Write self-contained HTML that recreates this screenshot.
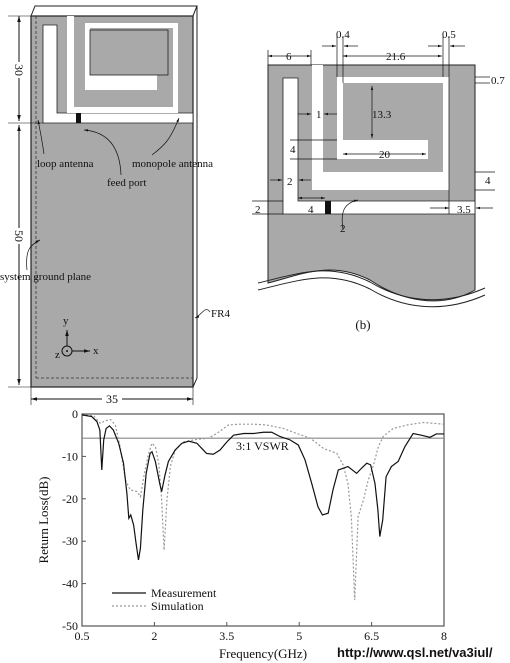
<!DOCTYPE html>
<html><head><meta charset="utf-8"><style>
body{margin:0;background:#fff;width:510px;height:663px;overflow:hidden}
svg{display:block}
text{font-family:"Liberation Serif",serif;fill:#111}
</style></head><body>
<svg width="510" height="663" viewBox="0 0 510 663">
<defs>
<marker id="ar" viewBox="0 0 10 10" refX="10" refY="5" markerWidth="6" markerHeight="6" orient="auto-start-reverse"><path d="M0,2 L10,5 L0,8 z" fill="#111"/></marker>
</defs>
<!-- (a) board -->
<g>
<polygon points="31,16 35,6 197,6 193,16" fill="#fff" stroke="#222" stroke-width="1"/>
<polygon points="193,16 197,6 197,378 193,387" fill="#fff" stroke="#222" stroke-width="1"/>
<rect x="31" y="16" width="162" height="371" fill="#a9a9a9" stroke="#222" stroke-width="1.2"/>
<line x1="36" y1="16" x2="36" y2="378" stroke="#333" stroke-dasharray="3,2" stroke-width="0.8"/>
<line x1="36" y1="378" x2="193" y2="378" stroke="#333" stroke-dasharray="3,2" stroke-width="0.8"/>
<path d="M43,25 H57 V113 H193 V123 H43 Z" fill="#fff" stroke="#222" stroke-width="0.8"/>
<g fill="#fff">
<rect x="67" y="16" width="7" height="97"/>
<rect x="67" y="107" width="111" height="6"/>
<rect x="173" y="23" width="5" height="90"/>
<rect x="85" y="23" width="93" height="5"/>
<rect x="85" y="23" width="5" height="67"/>
<rect x="85" y="75" width="72" height="15"/>
</g>
<rect x="90" y="30" width="78" height="45" fill="none" stroke="#222" stroke-width="0.8"/>
<rect x="76" y="113" width="5" height="10" fill="#111"/>
<line x1="19" y1="16" x2="19" y2="121" stroke="#111" marker-start="url(#ar)" marker-end="url(#ar)"/>
<line x1="19" y1="125" x2="19" y2="385" stroke="#111" marker-start="url(#ar)" marker-end="url(#ar)"/>
<line x1="8" y1="16" x2="31" y2="16" stroke="#111" stroke-width="0.6"/>
<line x1="8" y1="123" x2="43" y2="123" stroke="#111" stroke-width="0.6"/>
<line x1="8" y1="387" x2="31" y2="387" stroke="#111" stroke-width="0.6"/>
<rect x="14" y="62" width="10" height="16" fill="#fff"/>
<text x="0" y="0" font-size="12" transform="translate(14,70) rotate(90)" text-anchor="middle" dy="-1">30</text>
<rect x="14" y="228" width="10" height="16" fill="#fff"/>
<text x="0" y="0" font-size="12" transform="translate(14,236) rotate(90)" text-anchor="middle" dy="-1">50</text>
<line x1="31" y1="399" x2="193" y2="399" stroke="#111" marker-start="url(#ar)" marker-end="url(#ar)"/>
<line x1="31" y1="387" x2="31" y2="405" stroke="#111" stroke-width="0.6"/>
<line x1="193" y1="387" x2="193" y2="405" stroke="#111" stroke-width="0.6"/>
<rect x="102" y="392" width="20" height="12" fill="#fff"/>
<text x="112" y="403" font-size="12" text-anchor="middle">35</text>
<text x="37" y="167" font-size="11">loop antenna</text>
<text x="132" y="167" font-size="11">monopole antenna</text>
<text x="107" y="186" font-size="11">feed port</text>
<text x="0" y="280" font-size="11">system ground plane</text>
<text x="211" y="317" font-size="11">FR4</text>
<path d="M44,154 C42,140 40,130 38,120" fill="none" stroke="#111" stroke-width="0.7" marker-end="url(#ar)"/>
<path d="M152,155 C165,145 170,140 179,118" fill="none" stroke="#111" stroke-width="0.7" marker-end="url(#ar)"/>
<path d="M121,175 C120,150 110,132 84,130" fill="none" stroke="#111" stroke-width="0.7" marker-end="url(#ar)"/>
<path d="M27,270 C25,250 30,245 40,240" fill="none" stroke="#111" stroke-width="0.7" marker-end="url(#ar)"/>
<path d="M210,312 C205,305 202,315 195,318" fill="none" stroke="#111" stroke-width="0.7" marker-end="url(#ar)"/>
<circle cx="67" cy="351" r="5" fill="none" stroke="#111"/><circle cx="67" cy="351" r="1" fill="#111"/>
<line x1="67" y1="346" x2="67" y2="330" stroke="#111" marker-end="url(#ar)"/>
<line x1="72" y1="351" x2="90" y2="351" stroke="#111" marker-end="url(#ar)"/>
<text x="63" y="324" font-size="11">y</text><text x="93" y="354" font-size="11">x</text><text x="55" y="358" font-size="11">z</text>
</g>
<!-- (b) detail -->
<g>
<path d="M268,65 H475 V290 C440,310 400,300 370,280 C330,260 300,275 268,283 Z" fill="#a9a9a9" stroke="#222"/>
<path d="M283,78 H298 V201 H475 V214 H283 Z" fill="#fff" stroke="#222" stroke-width="0.8"/>
<g fill="#fff">
<rect x="312" y="65" width="11" height="125"/>
<rect x="312" y="172" width="137" height="18"/>
<rect x="443" y="77" width="6" height="113"/>
<rect x="337" y="77" width="112" height="6"/>
<rect x="337" y="77" width="6" height="82"/>
<rect x="337" y="140" width="91" height="19"/>
</g>
<rect x="325" y="201" width="6" height="13" fill="#111"/>
<path d="M258,283 C300,273 330,262 370,282 C400,300 440,308 485,288" fill="none" stroke="#222"/>
<path d="M258,290 C300,280 330,269 370,289 C400,307 440,315 485,295" fill="none" stroke="#222"/>
<text x="286" y="60" font-size="11">6</text>
<text x="336" y="38" font-size="11">0.4</text>
<text x="386" y="60" font-size="11">21.6</text>
<text x="442" y="38" font-size="11">0.5</text>
<text x="491" y="84" font-size="11">0.7</text>
<text x="372" y="118" font-size="11">13.3</text>
<text x="316" y="118" font-size="11">1</text>
<text x="290" y="153" font-size="11">4</text>
<text x="379" y="158" font-size="11">20</text>
<text x="287" y="185" font-size="11">2</text>
<text x="485" y="184" font-size="11">4</text>
<text x="255" y="213" font-size="11">2</text>
<text x="308" y="213" font-size="11">4</text>
<text x="457" y="213" font-size="11">3.5</text>
<text x="340" y="232" font-size="11">2</text>
<text x="363" y="329" font-size="13" text-anchor="middle">(b)</text>
<g stroke="#111" stroke-width="0.7" fill="none">
<line x1="268" y1="56" x2="311" y2="56" marker-start="url(#ar)" marker-end="url(#ar)"/>
<line x1="268" y1="50" x2="268" y2="65"/><line x1="311" y1="50" x2="311" y2="65"/>
<line x1="343" y1="56" x2="442" y2="56" marker-start="url(#ar)" marker-end="url(#ar)"/>
<line x1="322" y1="46" x2="336" y2="46" marker-end="url(#ar)"/>
<line x1="358" y1="46" x2="344" y2="46" marker-end="url(#ar)"/>
<line x1="428" y1="46" x2="442" y2="46" marker-end="url(#ar)"/>
<line x1="465" y1="46" x2="450" y2="46" marker-end="url(#ar)"/>
<line x1="337" y1="36" x2="337" y2="77"/><line x1="343" y1="36" x2="343" y2="83"/>
<line x1="443" y1="36" x2="443" y2="77"/><line x1="449" y1="36" x2="449" y2="214"/>
<line x1="372" y1="86" x2="372" y2="138" marker-start="url(#ar)" marker-end="url(#ar)"/>
<line x1="343" y1="154" x2="426" y2="154" marker-start="url(#ar)" marker-end="url(#ar)"/>
<line x1="475" y1="77" x2="490" y2="77"/><line x1="475" y1="83" x2="490" y2="83"/>
<line x1="475" y1="172" x2="495" y2="172"/><line x1="475" y1="190" x2="495" y2="190"/>
<line x1="252" y1="201" x2="283" y2="201"/><line x1="252" y1="214" x2="283" y2="214"/>
<line x1="298" y1="198" x2="325" y2="198" marker-start="url(#ar)" marker-end="url(#ar)"/>
<line x1="430" y1="208" x2="449" y2="208" marker-end="url(#ar)"/>
<line x1="493" y1="208" x2="476" y2="208" marker-end="url(#ar)"/>
<line x1="290" y1="140" x2="337" y2="140"/><line x1="290" y1="159" x2="337" y2="159"/>
<line x1="298" y1="114" x2="311" y2="114" marker-end="url(#ar)"/>
<line x1="337" y1="114" x2="324" y2="114" marker-end="url(#ar)"/>
<line x1="270" y1="180" x2="282" y2="180" marker-end="url(#ar)"/>
<line x1="311" y1="180" x2="299" y2="180" marker-end="url(#ar)"/>
<path d="M343,230 C340,210 345,203 358,200" marker-end="url(#ar)"/>
</g>
</g>
<!-- chart -->
<g id="chart"></g>
<text x="337" y="657" font-weight="bold" font-size="13" style="font-family:'Liberation Sans',sans-serif">http://www.qsl.net/va3iul/</text>
</svg>
<script>
const xTicks=[0.5,2,3.5,5,6.5,8];
const yTicks=[0,-10,-20,-30,-40,-50];
const measFreq=[0.5,0.7,0.81,0.87,0.91,0.95,1.0,1.07,1.15,1.26,1.36,1.43,1.47,1.51,1.57,1.62,1.67,1.71,1.76,1.83,1.91,1.95,2.02,2.11,2.15,2.22,2.29,2.43,2.57,2.71,2.88,2.98,3.08,3.22,3.36,3.5,3.64,3.85,4.05,4.26,4.43,4.6,4.81,4.98,5.12,5.26,5.39,5.48,5.6,5.7,5.81,5.91,6.01,6.19,6.29,6.4,6.48,6.57,6.63,6.67,6.73,6.8,6.91,7.05,7.19,7.36,7.53,7.71,7.84,8];
const measDb=[-0.2,-0.6,-1.8,-3.8,-13.2,-6.1,-3.4,-2.8,-3.8,-6.9,-11.6,-18.7,-24.6,-23.8,-26.2,-30.5,-34.4,-31.7,-22.6,-14,-9.3,-8.9,-11.2,-16.4,-18.3,-14.4,-11.2,-8.5,-6.9,-6.4,-6.9,-8.1,-9.3,-9.5,-8.5,-6.6,-5,-4.6,-4.6,-4.3,-4.3,-5.3,-6.1,-7.3,-10.8,-16.4,-21.9,-23.8,-23.4,-17.9,-13.2,-12.8,-12.4,-14,-12.8,-11.6,-12,-16.4,-22.6,-28.9,-25,-14.8,-12.4,-11.2,-7.7,-4.6,-5,-5.5,-4.7,-4.7];
const simFreq=[0.5,0.74,0.88,0.98,1.09,1.19,1.29,1.4,1.5,1.64,1.71,1.78,1.88,1.95,2.02,2.09,2.15,2.2,2.26,2.33,2.43,2.6,2.88,3.12,3.29,3.53,3.77,4.05,4.33,4.67,4.95,5.23,5.5,5.78,5.91,6.01,6.08,6.15,6.22,6.33,6.43,6.53,6.64,6.74,6.95,7.23,7.57,8];
const simDb=[-0.2,-0.4,-2.2,-1.6,-1.3,-2.6,-7.7,-15.6,-17.9,-18.3,-19.5,-14.8,-9.3,-6.9,-7.7,-11.6,-20.3,-32.1,-20.3,-12.4,-8.5,-6.6,-6,-5.7,-4.6,-2.6,-2.4,-2.4,-2.6,-3.4,-4.6,-5.7,-8.1,-9.3,-12,-16.4,-24.2,-43.9,-24.2,-20.3,-15.6,-12.4,-7.7,-5.3,-3.4,-2.6,-2,-2.4];
const vswrDb=-5.7;
const X0=82,X1=444,Y0=414,Y1=626;
const sx=f=>X0+(f-0.5)/(8-0.5)*(X1-X0);
const sy=d=>Y0+(0-d)/50*(Y1-Y0);
const NS='http://www.w3.org/2000/svg';
const g=document.getElementById('chart');
function mk(t,a,p){const e=document.createElementNS(NS,t);for(const k in a)e.setAttribute(k,a[k]);(p||g).appendChild(e);return e;}
const frame=mk('rect',{x:X0,y:Y0,width:X1-X0,height:Y1-Y0,fill:'none',stroke:'#555','stroke-width':1.2});


xTicks.forEach(t=>{
 mk('line',{x1:sx(t),x2:sx(t),y1:Y1,y2:Y1-4,stroke:'#555'});
 const tx=mk('text',{x:sx(t),y:Y1+14,'font-size':12,'text-anchor':'middle'});tx.textContent=t;
 
 
});
yTicks.forEach(t=>{
 mk('line',{x1:X0,x2:X0+4,y1:sy(t),y2:sy(t),stroke:'#555'});
 const tx=mk('text',{x:X0-4,y:sy(t)+4,'font-size':12,'text-anchor':'end'});tx.textContent=t;
 
 
});
const vl=mk('line',{x1:X0,x2:X1,y1:sy(vswrDb),y2:sy(vswrDb),stroke:'#888','stroke-width':1.2});


const vt=mk('text',{x:236,y:sy(vswrDb)+12,'font-size':12});vt.textContent='3:1 VSWR';


const sim=mk('polyline',{points:simFreq.map((f,i)=>sx(f)+','+sy(simDb[i])).join(' '),fill:'none',stroke:'#999','stroke-width':1.2,'stroke-dasharray':'2,2'});


const meas=mk('polyline',{points:measFreq.map((f,i)=>sx(f)+','+sy(measDb[i])).join(' '),fill:'none',stroke:'#111','stroke-width':1.2});


mk('line',{x1:112,x2:146,y1:593,y2:593,stroke:'#111','stroke-width':1.2});
mk('line',{x1:112,x2:146,y1:606,y2:606,stroke:'#999','stroke-width':1.2,'stroke-dasharray':'2,2'});
const l1=mk('text',{x:151,y:597,'font-size':12});l1.textContent='Measurement';


const l2=mk('text',{x:151,y:610,'font-size':12});l2.textContent='Simulation';


const yl=mk('text',{x:0,y:0,'font-size':13,'text-anchor':'middle',transform:'translate(48,520) rotate(-90)'});yl.textContent='Return Loss(dB)';


const xl=mk('text',{x:263,y:658,'font-size':13,'text-anchor':'middle'});xl.textContent='Frequency(GHz)';


</script>
</body></html>
